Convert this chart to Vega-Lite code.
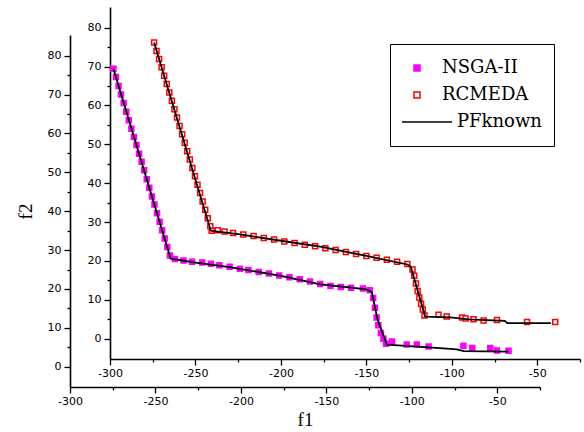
{
  "$schema": "https://vega.github.io/schema/vega-lite/v6.json",
  "width": 470,
  "height": 352,
  "autosize": {"type": "none"},
  "padding": {"left": 110, "top": 7, "right": 4, "bottom": 73},
  "background": "white",
  "config": {
    "view": {"stroke": null},
    "axis": {
      "grid": false,
      "domainColor": "black",
      "domainWidth": 1.6,
      "tickColor": "black",
      "tickWidth": 1.3,
      "labelColor": "black",
      "labelFont": "DejaVu Sans",
      "labelFontSize": 11,
      "titleFont": "Liberation Serif",
      "titleFontSize": 19,
      "titleFontWeight": "normal",
      "titleColor": "black",
      "labelOverlap": false,
      "labelFlush": false
    },
    "legend": {
      "title": null, "orient": "none", "legendX": 280, "legendY": 37, "padding": 12,
      "strokeColor": "black", "fillColor": "white", "symbolStrokeWidth": 1.5,
      "symbolSize": 2500, "clipHeight": 24, "rowPadding": 3,
      "labelFont": "DejaVu Serif", "labelFontSize": 18, "labelColor": "black",
      "labelOffset": 4, "labelLimit": 300, "symbolOpacity": 1
    }
  },
  "datasets": {
    "pts": [
      {"series": "NSGA-II", "f1": -298.0, "f2": 69.4},
      {"series": "NSGA-II", "f1": -296.5, "f2": 67.3},
      {"series": "NSGA-II", "f1": -295.0, "f2": 65.0},
      {"series": "NSGA-II", "f1": -293.6, "f2": 62.8},
      {"series": "NSGA-II", "f1": -292.0, "f2": 60.6},
      {"series": "NSGA-II", "f1": -290.5, "f2": 58.4},
      {"series": "NSGA-II", "f1": -289.0, "f2": 56.2},
      {"series": "NSGA-II", "f1": -287.5, "f2": 54.0},
      {"series": "NSGA-II", "f1": -286.0, "f2": 51.9},
      {"series": "NSGA-II", "f1": -284.5, "f2": 49.8},
      {"series": "NSGA-II", "f1": -283.0, "f2": 47.6},
      {"series": "NSGA-II", "f1": -281.5, "f2": 45.5},
      {"series": "NSGA-II", "f1": -280.0, "f2": 43.3},
      {"series": "NSGA-II", "f1": -278.5, "f2": 41.0},
      {"series": "NSGA-II", "f1": -277.0, "f2": 38.8},
      {"series": "NSGA-II", "f1": -275.5, "f2": 36.6},
      {"series": "NSGA-II", "f1": -274.0, "f2": 34.5},
      {"series": "NSGA-II", "f1": -272.5, "f2": 32.3},
      {"series": "NSGA-II", "f1": -271.0, "f2": 30.1},
      {"series": "NSGA-II", "f1": -269.5, "f2": 27.9},
      {"series": "NSGA-II", "f1": -268.0, "f2": 25.8},
      {"series": "NSGA-II", "f1": -266.5, "f2": 23.6},
      {"series": "NSGA-II", "f1": -265.0, "f2": 21.4},
      {"series": "NSGA-II", "f1": -262.0, "f2": 20.5},
      {"series": "NSGA-II", "f1": -257.0, "f2": 20.1},
      {"series": "NSGA-II", "f1": -252.0, "f2": 19.8},
      {"series": "NSGA-II", "f1": -246.0, "f2": 19.6},
      {"series": "NSGA-II", "f1": -241.0, "f2": 19.3},
      {"series": "NSGA-II", "f1": -236.0, "f2": 18.9},
      {"series": "NSGA-II", "f1": -230.0, "f2": 18.5},
      {"series": "NSGA-II", "f1": -224.0, "f2": 18.0},
      {"series": "NSGA-II", "f1": -219.0, "f2": 17.7},
      {"series": "NSGA-II", "f1": -213.0, "f2": 17.2},
      {"series": "NSGA-II", "f1": -207.0, "f2": 16.8},
      {"series": "NSGA-II", "f1": -201.0, "f2": 16.3},
      {"series": "NSGA-II", "f1": -195.0, "f2": 15.8},
      {"series": "NSGA-II", "f1": -189.0, "f2": 15.3},
      {"series": "NSGA-II", "f1": -183.0, "f2": 14.7},
      {"series": "NSGA-II", "f1": -177.0, "f2": 14.1},
      {"series": "NSGA-II", "f1": -171.0, "f2": 13.6},
      {"series": "NSGA-II", "f1": -165.0, "f2": 13.3},
      {"series": "NSGA-II", "f1": -159.0, "f2": 13.1},
      {"series": "NSGA-II", "f1": -152.0, "f2": 12.9},
      {"series": "NSGA-II", "f1": -148.0, "f2": 12.5},
      {"series": "NSGA-II", "f1": -146.0, "f2": 10.5},
      {"series": "NSGA-II", "f1": -145.0, "f2": 8.0},
      {"series": "NSGA-II", "f1": -144.0, "f2": 5.5},
      {"series": "NSGA-II", "f1": -143.0, "f2": 3.5},
      {"series": "NSGA-II", "f1": -141.5, "f2": 1.5},
      {"series": "NSGA-II", "f1": -140.0, "f2": 0.0},
      {"series": "NSGA-II", "f1": -138.5, "f2": -1.3},
      {"series": "NSGA-II", "f1": -135.0, "f2": -0.7},
      {"series": "NSGA-II", "f1": -126.4, "f2": -1.5},
      {"series": "NSGA-II", "f1": -120.5, "f2": -1.5},
      {"series": "NSGA-II", "f1": -113.6, "f2": -2.0},
      {"series": "NSGA-II", "f1": -93.2, "f2": -1.8},
      {"series": "NSGA-II", "f1": -88.0, "f2": -2.4},
      {"series": "NSGA-II", "f1": -77.5, "f2": -2.4},
      {"series": "NSGA-II", "f1": -73.6, "f2": -3.0},
      {"series": "NSGA-II", "f1": -66.8, "f2": -3.1},
      {"series": "RCMEDA", "f1": -274.2, "f2": 76.2},
      {"series": "RCMEDA", "f1": -272.8, "f2": 74.0},
      {"series": "RCMEDA", "f1": -271.3, "f2": 71.9},
      {"series": "RCMEDA", "f1": -269.8, "f2": 69.8},
      {"series": "RCMEDA", "f1": -268.3, "f2": 67.6},
      {"series": "RCMEDA", "f1": -266.8, "f2": 65.5},
      {"series": "RCMEDA", "f1": -265.3, "f2": 63.3},
      {"series": "RCMEDA", "f1": -263.8, "f2": 61.2},
      {"series": "RCMEDA", "f1": -262.3, "f2": 59.0},
      {"series": "RCMEDA", "f1": -260.8, "f2": 56.9},
      {"series": "RCMEDA", "f1": -259.3, "f2": 54.7},
      {"series": "RCMEDA", "f1": -257.8, "f2": 52.6},
      {"series": "RCMEDA", "f1": -256.3, "f2": 50.4},
      {"series": "RCMEDA", "f1": -254.8, "f2": 48.2},
      {"series": "RCMEDA", "f1": -253.3, "f2": 46.1},
      {"series": "RCMEDA", "f1": -251.8, "f2": 43.9},
      {"series": "RCMEDA", "f1": -250.3, "f2": 41.8},
      {"series": "RCMEDA", "f1": -248.8, "f2": 39.6},
      {"series": "RCMEDA", "f1": -247.3, "f2": 37.5},
      {"series": "RCMEDA", "f1": -245.8, "f2": 35.3},
      {"series": "RCMEDA", "f1": -244.3, "f2": 33.2},
      {"series": "RCMEDA", "f1": -242.8, "f2": 31.0},
      {"series": "RCMEDA", "f1": -241.3, "f2": 28.9},
      {"series": "RCMEDA", "f1": -240.5, "f2": 27.8},
      {"series": "RCMEDA", "f1": -237.0, "f2": 27.9},
      {"series": "RCMEDA", "f1": -233.0, "f2": 27.6},
      {"series": "RCMEDA", "f1": -228.0, "f2": 27.2},
      {"series": "RCMEDA", "f1": -222.0, "f2": 26.8},
      {"series": "RCMEDA", "f1": -216.0, "f2": 26.4},
      {"series": "RCMEDA", "f1": -210.0, "f2": 25.9},
      {"series": "RCMEDA", "f1": -204.0, "f2": 25.5},
      {"series": "RCMEDA", "f1": -198.0, "f2": 25.0},
      {"series": "RCMEDA", "f1": -192.0, "f2": 24.6},
      {"series": "RCMEDA", "f1": -186.0, "f2": 24.2},
      {"series": "RCMEDA", "f1": -180.0, "f2": 23.8},
      {"series": "RCMEDA", "f1": -174.0, "f2": 23.3},
      {"series": "RCMEDA", "f1": -168.0, "f2": 22.8},
      {"series": "RCMEDA", "f1": -162.0, "f2": 22.3},
      {"series": "RCMEDA", "f1": -156.0, "f2": 21.8},
      {"series": "RCMEDA", "f1": -150.0, "f2": 21.3},
      {"series": "RCMEDA", "f1": -144.0, "f2": 20.8},
      {"series": "RCMEDA", "f1": -138.0, "f2": 20.3},
      {"series": "RCMEDA", "f1": -132.0, "f2": 19.8},
      {"series": "RCMEDA", "f1": -126.0, "f2": 19.2},
      {"series": "RCMEDA", "f1": -123.0, "f2": 17.8},
      {"series": "RCMEDA", "f1": -122.0, "f2": 16.2},
      {"series": "RCMEDA", "f1": -121.0, "f2": 14.2},
      {"series": "RCMEDA", "f1": -120.0, "f2": 12.3},
      {"series": "RCMEDA", "f1": -119.0, "f2": 10.6},
      {"series": "RCMEDA", "f1": -118.0, "f2": 9.0},
      {"series": "RCMEDA", "f1": -117.0, "f2": 7.5},
      {"series": "RCMEDA", "f1": -116.0, "f2": 6.0},
      {"series": "RCMEDA", "f1": -107.8, "f2": 6.2},
      {"series": "RCMEDA", "f1": -103.0, "f2": 5.7},
      {"series": "RCMEDA", "f1": -94.0, "f2": 5.5},
      {"series": "RCMEDA", "f1": -92.0, "f2": 5.2},
      {"series": "RCMEDA", "f1": -87.3, "f2": 5.0},
      {"series": "RCMEDA", "f1": -81.4, "f2": 4.7},
      {"series": "RCMEDA", "f1": -73.6, "f2": 4.8},
      {"series": "RCMEDA", "f1": -56.0, "f2": 4.3},
      {"series": "RCMEDA", "f1": -39.5, "f2": 4.3}
    ],
    "pf": [
      {"curve": "a", "f1": -298.0, "f2": 69.4},
      {"curve": "a", "f1": -264.5, "f2": 20.6},
      {"curve": "a", "f1": -250.0, "f2": 19.6},
      {"curve": "a", "f1": -230.0, "f2": 18.4},
      {"curve": "a", "f1": -200.0, "f2": 16.2},
      {"curve": "a", "f1": -177.0, "f2": 14.0},
      {"curve": "a", "f1": -160.0, "f2": 13.2},
      {"curve": "a", "f1": -150.0, "f2": 12.7},
      {"curve": "a", "f1": -146.8, "f2": 12.0},
      {"curve": "a", "f1": -143.5, "f2": 5.0},
      {"curve": "a", "f1": -138.0, "f2": -1.5},
      {"curve": "a", "f1": -107.0, "f2": -2.4},
      {"curve": "a", "f1": -97.0, "f2": -2.7},
      {"curve": "a", "f1": -93.0, "f2": -3.2},
      {"curve": "a", "f1": -67.0, "f2": -3.3},
      {"curve": "b", "f1": -274.2, "f2": 76.2},
      {"curve": "b", "f1": -241.0, "f2": 27.8},
      {"curve": "b", "f1": -236.0, "f2": 27.5},
      {"curve": "b", "f1": -225.0, "f2": 26.9},
      {"curve": "b", "f1": -200.0, "f2": 25.2},
      {"curve": "b", "f1": -177.0, "f2": 23.7},
      {"curve": "b", "f1": -150.0, "f2": 21.3},
      {"curve": "b", "f1": -126.0, "f2": 19.1},
      {"curve": "b", "f1": -124.0, "f2": 18.5},
      {"curve": "b", "f1": -115.6, "f2": 5.7},
      {"curve": "b", "f1": -101.0, "f2": 5.5},
      {"curve": "b", "f1": -90.0, "f2": 5.0},
      {"curve": "b", "f1": -69.0, "f2": 4.6},
      {"curve": "b", "f1": -67.5, "f2": 4.0},
      {"curve": "b", "f1": -42.0, "f2": 4.0}
    ]
  },
  "layer": [
    {
      "data": {"name": "pts"},
      "mark": {"type": "point", "filled": true, "strokeWidth": 1.5, "opacity": 1, "size": 25},
      "encoding": {
        "x": {
          "field": "f1", "type": "quantitative",
          "scale": {"domain": [-300, -25], "nice": false, "zero": false},
          "axis": {
            "orient": "bottom", "offset": 28, "position": -40,
            "values": [-300, -275, -250, -225, -200, -175, -150, -125, -100, -75, -50, -25],
            "labelExpr": "datum.value % 50 === 0 ? '' + datum.value : ''",
            "tickSize": {"condition": {"test": "datum.value % 50 === 0", "value": 6}, "value": 3},
            "labelPadding": 2,
            "title": "f1", "titlePadding": 4
          }
        },
        "y": {
          "field": "f2", "type": "quantitative",
          "scale": {"domain": [-5.2, 85.3], "nice": false, "zero": false},
          "axis": {
            "orient": "left", "offset": 40, "position": 28,
            "values": [0, 5, 10, 15, 20, 25, 30, 35, 40, 45, 50, 55, 60, 65, 70, 75, 80],
            "labelExpr": "datum.value % 10 === 0 ? '' + datum.value : ''",
            "tickSize": {"condition": {"test": "datum.value % 10 === 0", "value": 6}, "value": 3},
            "labelPadding": 3,
            "title": "f2", "titlePadding": 12
          }
        },
        "fill": {
          "field": "series", "type": "nominal",
          "scale": {"domain": ["NSGA-II", "RCMEDA", "PFknown"], "range": ["#ff00ff", "#ffffff", "#000000"]},
          "legend": {
            "symbolSize": 2500,
            "encode": {
              "symbols": {"update": {
                "size": {"signal": "datum.value === 'PFknown' ? 2500 : 36"},
                "x": {"signal": "datum.value === 'PFknown' ? 25 : 15"}
              }},
              "labels": {"update": {
                "x": {"signal": "datum.value === 'PFknown' ? 55 : 40"}
              }}
            }
          }
        },
        "stroke": {
          "field": "series", "type": "nominal",
          "scale": {"domain": ["NSGA-II", "RCMEDA", "PFknown"], "range": ["#ff00ff", "#ff0000", "#000000"]},
          "legend": {
            "symbolSize": 2500,
            "encode": {
              "symbols": {"update": {
                "size": {"signal": "datum.value === 'PFknown' ? 2500 : 36"},
                "x": {"signal": "datum.value === 'PFknown' ? 25 : 15"}
              }},
              "labels": {"update": {
                "x": {"signal": "datum.value === 'PFknown' ? 55 : 40"}
              }}
            }
          }
        },
        "shape": {
          "field": "series", "type": "nominal",
          "scale": {"domain": ["NSGA-II", "RCMEDA", "PFknown"], "range": ["square", "square", "stroke"]},
          "legend": {
            "symbolSize": 2500,
            "encode": {
              "symbols": {"update": {
                "size": {"signal": "datum.value === 'PFknown' ? 2500 : 36"},
                "x": {"signal": "datum.value === 'PFknown' ? 25 : 15"}
              }},
              "labels": {"update": {
                "x": {"signal": "datum.value === 'PFknown' ? 55 : 40"}
              }}
            }
          }
        }
      }
    },
    {
      "data": {"name": "pf"},
      "mark": {"type": "line", "color": "black", "strokeWidth": 1.8},
      "encoding": {
        "x": {
          "field": "f1", "type": "quantitative",
          "scale": {"domain": [-300, -25], "nice": false, "zero": false},
          "axis": {
            "orient": "bottom",
            "values": [-300, -275, -250, -225, -200, -175, -150, -125, -100, -75, -50, -25],
            "labelExpr": "datum.value % 50 === 0 ? '' + datum.value : ''",
            "tickSize": {"condition": {"test": "datum.value % 50 === 0", "value": 6}, "value": 3},
            "labelPadding": 2,
            "title": null
          }
        },
        "y": {
          "field": "f2", "type": "quantitative",
          "scale": {"domain": [-5.2, 85.3], "nice": false, "zero": false},
          "axis": {
            "orient": "left",
            "values": [0, 5, 10, 15, 20, 25, 30, 35, 40, 45, 50, 55, 60, 65, 70, 75, 80],
            "labelExpr": "datum.value % 10 === 0 ? '' + datum.value : ''",
            "tickSize": {"condition": {"test": "datum.value % 10 === 0", "value": 6}, "value": 3},
            "labelPadding": 3,
            "title": null
          }
        },
        "detail": {"field": "curve", "type": "nominal"}
      }
    }
  ],
  "resolve": {"axis": {"x": "independent", "y": "independent"}}
}
